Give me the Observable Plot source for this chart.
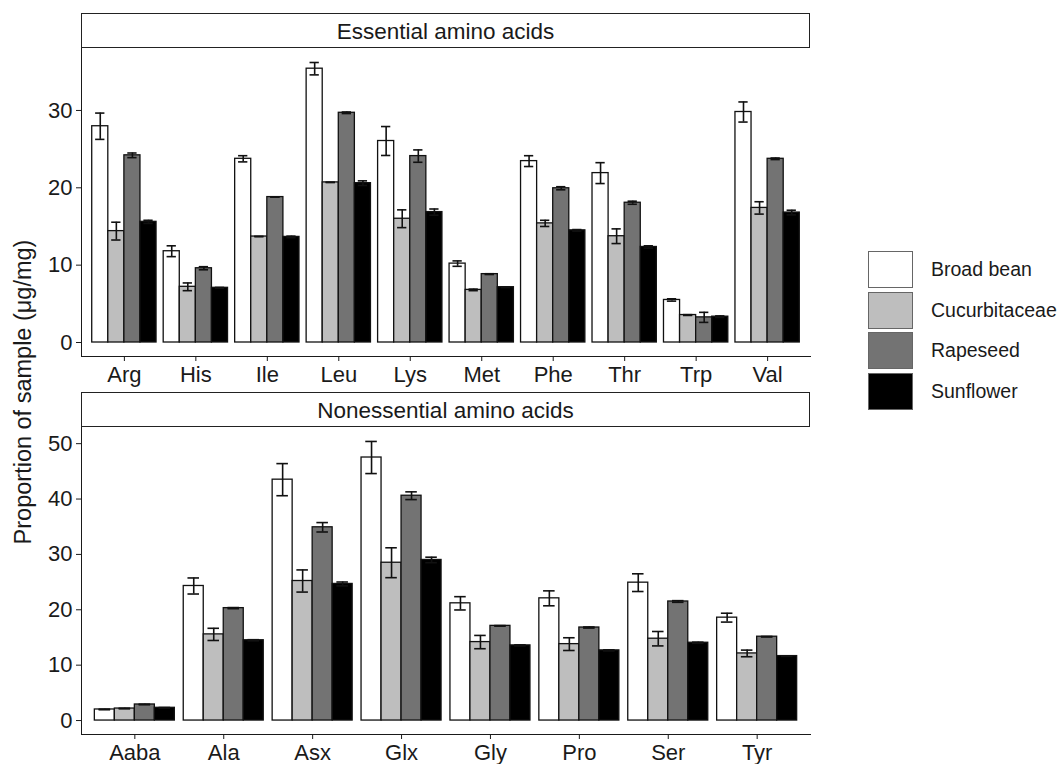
<!DOCTYPE html>
<html>
<head>
<meta charset="utf-8">
<script src="https://cdn.jsdelivr.net/npm/d3@7"></script>
<script src="https://cdn.jsdelivr.net/npm/@observablehq/plot@0.6"></script>
<style>
  html, body { margin: 0; padding: 0; background: #fff; }
  #wrap { position: relative; width: 1060px; height: 764px; font-family: "Liberation Sans", Arial, sans-serif; color: #1a1a1a; overflow: hidden; }
  .strip { position: absolute; box-sizing: border-box; border: 1.5px solid #222; background: #fff; text-align: center; font-size: 22.5px; }
  .panel { position: absolute; left: 0; }
  #ytitle { position: absolute; font-size: 23.5px; white-space: nowrap; transform: translate(-50%, -50%) rotate(-90deg); }
  .legend-item { position: absolute; display: flex; align-items: center; }
  .legend-key { box-sizing: border-box; width: 45px; height: 37px; border: 1.5px solid #666; }
  .legend-label { margin-left: 18px; font-size: 19.5px; }
</style>
</head>
<body>
<div id="wrap"></div>
<script>
// ---- data ----
const series = ["Broad bean", "Cucurbitaceae", "Rapeseed", "Sunflower"];
const seriesColors = ["#FFFFFF", "#BEBEBE", "#737373", "#000000"];

const essentialTitle = "Essential amino acids";
const essentialCats = ["Arg", "His", "Ile", "Leu", "Lys", "Met", "Phe", "Thr", "Trp", "Val"];
const essBroadBean    = [27.96, 11.8, 23.75, 35.4, 26.05, 10.2, 23.45, 21.9, 5.5, 29.8];
const essBroadBeanErr = [1.7, 0.7, 0.4, 0.8, 1.87, 0.35, 0.7, 1.35, 0.15, 1.3];
const essCucurb       = [14.4, 7.2, 13.7, 20.7, 16.0, 6.8, 15.4, 13.74, 3.55, 17.4];
const essCucurbErr    = [1.15, 0.5, 0.0, 0.0, 1.15, 0.1, 0.4, 0.95, 0.05, 0.8];
const essRapeseed     = [24.2, 9.6, 18.8, 29.7, 24.1, 8.84, 19.94, 18.07, 3.25, 23.75];
const essRapeseedErr  = [0.3, 0.2, 0.0, 0.1, 0.8, 0.05, 0.2, 0.2, 0.65, 0.1];
const essSunflower    = [15.6, 7.07, 13.65, 20.6, 16.86, 7.15, 14.5, 12.35, 3.34, 16.8];
const essSunflowerErr = [0.2, 0.05, 0.1, 0.3, 0.4, 0.05, 0.1, 0.15, 0.1, 0.3];
const essTicks = [0, 10, 20, 30];

const nonessTitle = "Nonessential amino acids";
const nonessCats = ["Aaba", "Ala", "Asx", "Glx", "Gly", "Pro", "Ser", "Tyr"];
const nonBroadBean    = [2.0, 24.3, 43.5, 47.5, 21.17, 22.07, 24.9, 18.58];
const nonBroadBeanErr = [0.05, 1.45, 2.9, 2.9, 1.2, 1.35, 1.6, 0.8];
const nonCucurb       = [2.17, 15.56, 25.2, 28.5, 14.17, 13.8, 14.78, 12.12];
const nonCucurbErr    = [0.05, 1.1, 2.0, 2.7, 1.2, 1.15, 1.3, 0.6];
const nonRapeseed     = [2.9, 20.3, 34.9, 40.6, 17.1, 16.8, 21.5, 15.14];
const nonRapeseedErr  = [0.05, 0.1, 0.85, 0.7, 0.05, 0.1, 0.15, 0.05];
const nonSunflower    = [2.3, 14.5, 24.67, 29.0, 13.57, 12.67, 14.05, 11.64];
const nonSunflowerErr = [0.05, 0.1, 0.35, 0.5, 0.1, 0.1, 0.1, 0.05];
const nonTicks = [0, 10, 20, 30, 40, 50];

const yTitle = "Proportion of sample (μg/mg)";

// ---- chart ----
const wrap = document.getElementById("wrap");
const groupWidth = 0.9;
const barW = groupWidth / series.length;
const capHalf = 0.065;

function buildRows(cats, vals, errs) {
  const rows = [];
  cats.forEach((c, i) => series.forEach((s, j) => rows.push({
    cat: c, i: i + 1, j, series: s, value: vals[j][i], err: errs[j][i]
  })));
  return rows;
}

function panel(cats, vals, errs, ticks, height) {
  const rows = buildRows(cats, vals, errs);
  const ymax = d3.max(rows, d => d.value + d.err);
  const pad = ymax * 0.05;
  const left = d => d.i - groupWidth / 2 + d.j * barW;
  const center = d => left(d) + barW / 2;
  return Plot.plot({
    width: 820, height,
    marginLeft: 81, marginRight: 10, marginTop: 0, marginBottom: 30,
    style: {fontFamily: "'Liberation Sans', Arial, sans-serif", fontSize: "22px", color: "#1a1a1a", background: "transparent", overflow: "visible"},
    x: {domain: [0.4, cats.length + 0.6], ticks: d3.range(1, cats.length + 1), tickFormat: i => cats[i - 1], tickSize: 5, tickPadding: 5, line: true, label: null},
    y: {domain: [-pad, ymax + pad], ticks, tickSize: 5, tickPadding: 4, line: true, label: null},
    color: {domain: series, range: seriesColors},
    marks: [
      Plot.rect(rows, {x1: left, x2: d => left(d) + barW, y1: 0, y2: "value", fill: "series", stroke: "#111", strokeWidth: 1.3}),
      Plot.ruleX(rows, {x: center, y1: d => d.value - d.err, y2: d => d.value + d.err, stroke: "#111", strokeWidth: 1.6}),
      Plot.ruleY(rows, {y: d => d.value + d.err, x1: d => center(d) - capHalf, x2: d => center(d) + capHalf, stroke: "#111", strokeWidth: 1.6}),
      Plot.ruleY(rows, {y: d => d.value - d.err, x1: d => center(d) - capHalf, x2: d => center(d) + capHalf, stroke: "#111", strokeWidth: 1.6})
    ]
  });
}

function addStrip(text, top) {
  const s = document.createElement("div");
  s.className = "strip";
  s.style.left = "81px"; s.style.top = top + "px";
  s.style.width = "729px"; s.style.height = "35px"; s.style.lineHeight = "35px";
  s.textContent = text;
  wrap.appendChild(s);
}

function addPanel(svg, top) {
  const d = document.createElement("div");
  d.className = "panel";
  d.style.top = top + "px";
  d.appendChild(svg);
  wrap.appendChild(d);
}

addStrip(essentialTitle, 13);
addPanel(panel(essentialCats,
  [essBroadBean, essCucurb, essRapeseed, essSunflower],
  [essBroadBeanErr, essCucurbErr, essRapeseedErr, essSunflowerErr],
  essTicks, 338), 48);

addStrip(nonessTitle, 392);
addPanel(panel(nonessCats,
  [nonBroadBean, nonCucurb, nonRapeseed, nonSunflower],
  [nonBroadBeanErr, nonCucurbErr, nonRapeseedErr, nonSunflowerErr],
  nonTicks, 337), 427);

const yt = document.createElement("div");
yt.id = "ytitle";
yt.style.left = "23px"; yt.style.top = "392px";
yt.textContent = yTitle;
wrap.appendChild(yt);

series.forEach((s, k) => {
  const item = document.createElement("div");
  item.className = "legend-item";
  item.style.left = "868px";
  item.style.top = (251 + k * 40.7) + "px";
  const key = document.createElement("div");
  key.className = "legend-key";
  key.style.background = seriesColors[k];
  const lab = document.createElement("span");
  lab.className = "legend-label";
  lab.textContent = s;
  item.appendChild(key); item.appendChild(lab);
  wrap.appendChild(item);
});
</script>
</body>
</html>
